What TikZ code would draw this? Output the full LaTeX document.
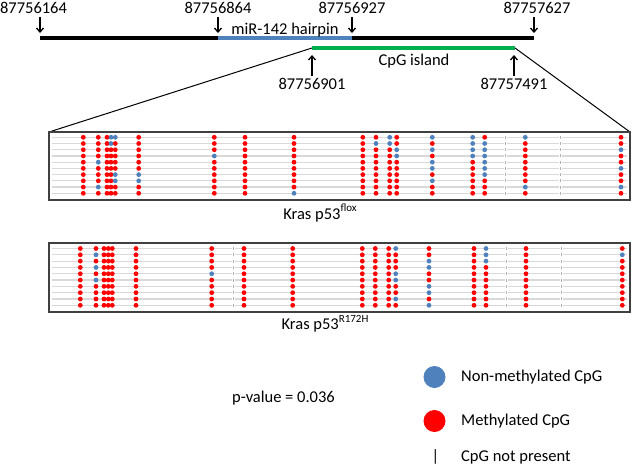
\documentclass[tikz,border=0pt]{standalone}
\usepackage{fontspec}
\setmainfont{Carlito}
\usetikzlibrary{arrows.meta}
\definecolor{mblue}{HTML}{4F81BD}
\definecolor{mred}{HTML}{FF0000}
\definecolor{mgreen}{HTML}{00B050}
\definecolor{rowgray}{HTML}{D9D9D9}
\definecolor{boxgray}{HTML}{404040}
\newcommand{\mysup}[1]{\raisebox{0.45em}{\fontsize{11}{12}\selectfont #1}}
\tikzset{
 arr/.style={line width=1.3pt, -{Straight Barb[length=4pt,width=7pt]}},
 lbl/.style={inner sep=0pt, font=\fontsize{16.5}{19}\selectfont},
 dotR/.style={fill=mred}, dotB/.style={fill=mblue},
 rowline/.style={rowgray, line width=1.2pt},
 frame/.style={draw=boxgray, line width=2pt},
 absent/.style={gray!60, line width=0.7pt},
 thick line/.style={line width=4pt},
}
\begin{document}
\begin{tikzpicture}[x=1pt,y=-1pt]
\useasboundingbox (0,0) rectangle (633,467);
% top genomic line
\coordinate (L0) at (40,38);
\coordinate (L1) at (218,38);
\coordinate (L2) at (352,38);
\coordinate (L3) at (534,38);
\draw[thick line] (L0) -- (L1);
\draw[thick line, mblue] (L1) -- (L2);
\draw[thick line] (L2) -- (L3);
\node[lbl] (t0) at (33.5,8) {87756164};
\node[lbl] (t1) at (218,8) {87756864};
\node[lbl] (t2) at (352,8) {87756927};
\node[lbl] (t3) at (537,8) {87757627};
\node[lbl] (hp) at (285,30) {miR-142 hairpin};
\foreach \i/\x in {0/40,1/218,2/352,3/534}{
  \coordinate (as\i) at (\x,17);
  \coordinate (ae\i) at (\x,33);
  \draw[arr] (as\i) -- (ae\i);
}
% CpG island
\coordinate (G0) at (312,48);
\coordinate (G1) at (515,48);
\draw[thick line, mgreen] (G0) -- (G1);
\node[lbl] (cpg) at (414,61) {CpG island};
\node[lbl] (g0) at (312,84) {87756901};
\node[lbl] (g1) at (514,84) {87757491};
\foreach \i/\x in {0/312,1/514}{
  \coordinate (us\i) at (\x,76);
  \coordinate (ue\i) at (\x,55);
  \draw[arr] (us\i) -- (ue\i);
}
% boxes
\coordinate (B1a) at (49,132);
\coordinate (B1b) at (630,200);
\coordinate (B1c) at (630,132);
\coordinate (B2a) at (49,243);
\coordinate (B2b) at (630,312);
\draw[line width=1pt] (G0) -- (B1a);
\draw[line width=1pt] (G1) -- (B1c);
% row lines
\foreach \i in {1,...,10}{
  \draw[rowline] (52,{137.3+6.22*(\i-1)}) -- (627,{137.3+6.22*(\i-1)});
  \draw[rowline] (52,{248.5+6.31*(\i-1)}) -- (627,{248.5+6.31*(\i-1)});
}
% not present marks
\foreach \x in {505,560}{
  \foreach \i in {1,...,10}{
    \fill[white] ({\x-1.5},{137.3+6.22*(\i-1)-1}) rectangle ({\x+1.5},{137.3+6.22*(\i-1)+1});
    \draw[absent] (\x,{137.3+6.22*(\i-1)-1.5}) -- (\x,{137.3+6.22*(\i-1)+1.5});
  }
}
\foreach \x in {233,506,561.7}{
  \foreach \i in {1,...,10}{
    \fill[white] ({\x-1.5},{248.5+6.31*(\i-1)-1}) rectangle ({\x+1.5},{248.5+6.31*(\i-1)+1});
    \draw[absent] (\x,{248.5+6.31*(\i-1)-1.5}) -- (\x,{248.5+6.31*(\i-1)+1.5});
  }
}
% dots box 1 (flox)
\foreach \x/\pat in {
 83.3/{R,R,R,R,R,R,R,R,R,R},
 98.3/{R,R,R,R,B,R,R,R,B,R},
 107/{R,R,R,R,R,R,R,R,R,R},
 111/{B,B,R,R,R,R,R,R,R,R},
 115.3/{B,R,R,R,R,R,B,B,R,R},
 138.7/{R,R,R,R,R,R,B,B,R,R},
 214.3/{R,R,R,B,R,R,R,R,R,R},
 245/{R,R,R,R,R,R,R,R,R,R},
 294/{R,R,R,R,R,R,R,R,R,B},
 362.8/{R,R,R,R,R,R,R,R,R,R},
 376/{R,B,R,R,R,R,R,R,R,R},
 389.7/{B,B,R,R,R,R,R,R,R,R},
 396.7/{R,R,B,B,R,R,R,R,R,R},
 432.3/{B,R,B,R,B,B,R,B,R,R},
 472.7/{B,B,B,B,R,R,R,R,R,R},
 484.7/{R,B,B,B,B,B,B,R,R,R},
 525.3/{B,R,R,R,R,R,R,R,B,R},
 621/{R,R,B,R,R,B,R,R,B,R}}{
  \foreach \c [count=\i] in \pat {
    \fill[dot\c] (\x,{137.3+6.22*(\i-1)}) circle[radius=2.4];
  }
}
% dots box 2 (R172H)
\foreach \x/\pat in {
 80.3/{R,R,R,R,R,R,R,R,R,R},
 96/{R,B,R,B,R,B,R,R,R,R},
 104/{R,R,R,R,R,R,R,R,R,R},
 108.3/{R,R,R,R,R,R,R,R,R,R},
 112.3/{R,R,R,R,R,R,R,R,R,R},
 136/{R,R,R,R,R,R,R,R,R,R},
 211.7/{R,R,R,R,B,R,R,R,R,R},
 244/{R,R,R,R,R,R,R,R,R,R},
 292.7/{R,R,R,R,R,R,R,R,R,R},
 362.3/{R,R,R,R,R,R,R,R,R,R},
 375.3/{R,R,R,R,R,R,R,R,R,R},
 388.7/{R,R,R,R,R,R,R,R,R,R},
 395.7/{B,R,R,R,B,B,R,R,B,R},
 429/{R,R,B,B,R,R,B,B,R,B},
 474/{R,R,R,R,R,R,R,R,R,R},
 486/{B,B,B,R,R,R,R,R,R,R},
 526/{R,R,R,R,R,R,R,R,R,R},
 622.3/{R,B,R,R,R,R,R,R,R,R}}{
  \foreach \c [count=\i] in \pat {
    \fill[dot\c] (\x,{248.5+6.31*(\i-1)}) circle[radius=2.4];
  }
}
\draw[frame] (B1a) rectangle (B1b);
\draw[frame] (B2a) rectangle (B2b);
\node[lbl] (k1) at (320,213) {Kras p53\mysup{flox}};
\node[lbl] (k2) at (325,324) {Kras p53\mysup{R172H}};
\node[lbl] (pv) at (283.5,398) {p-value = 0.036};
% legend
\fill[mblue] (434.5,377) circle[radius=11];
\fill[mred] (434.5,421) circle[radius=11];
\node[lbl] (bar) at (435.5,457) {|};
\node[lbl, anchor=west] (lg1) at (461,377) {Non-methylated CpG};
\node[lbl, anchor=west] (lg2) at (461,421) {Methylated CpG};
\node[lbl, anchor=west] (lg3) at (461,457) {CpG not present};
\end{tikzpicture}
\end{document}
